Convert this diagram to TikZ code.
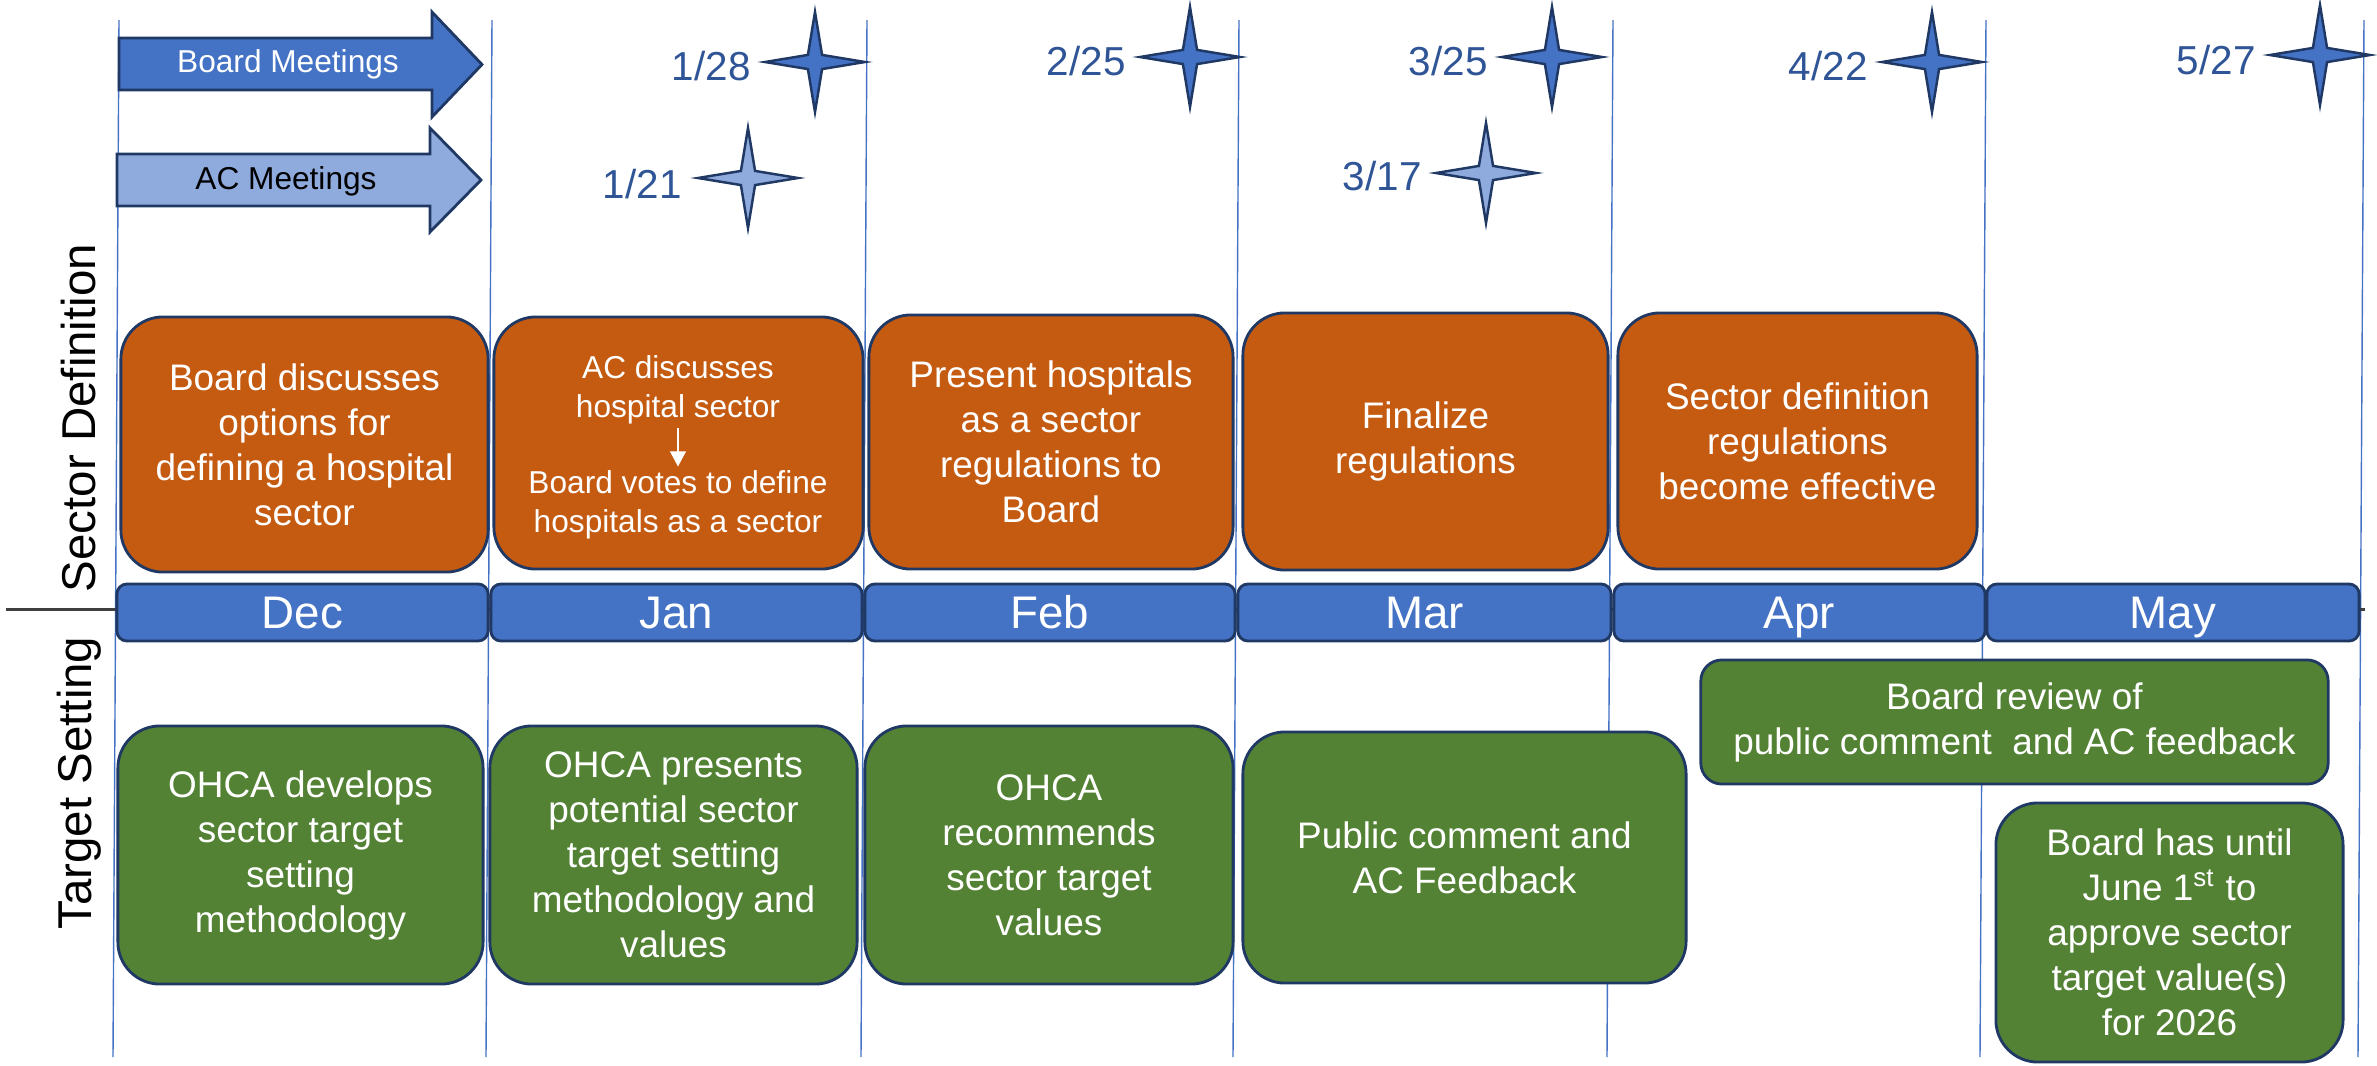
\documentclass[tikz,border=0pt]{standalone}
\usepackage{fontspec}
\setmainfont{Liberation Sans}
\usepackage{tikz}
\usetikzlibrary{shapes.geometric,arrows.meta,positioning}
\usepackage{xcolor}

\definecolor{boxorange}{HTML}{C55A11}
\definecolor{boxgreen}{HTML}{548235}
\definecolor{monthblue}{HTML}{4472C4}
\definecolor{lightblue}{HTML}{8FAADC}
\definecolor{navy}{HTML}{1F3864}
\definecolor{datetext}{HTML}{2F5597}

\begin{document}
\begin{tikzpicture}[x=0.01cm,y=-0.01cm]

        \tikzset{
            box/.style={draw=navy, line width=0.8pt, rounded corners=0.42cm, text=white, align=center, inner sep=0pt, font=\fontsize{10.5}{12.8}\selectfont},
            box_orange/.style={box, fill=boxorange},
            box_green/.style={box, fill=boxgreen},
            month/.style={draw=navy, line width=0.8pt, fill=monthblue, rounded corners=0.1cm, text=white, minimum height=0.57cm, inner sep=0pt, text height=9.3pt, text depth=0pt, font=\fontsize{13}{15}\selectfont},
            meeting_star/.style={star, star points=4, star point ratio=5, minimum size=1cm, inner sep=0pt, draw=navy, line width=0.7pt},
            star_board/.style={meeting_star, fill=monthblue},
            star_ac/.style={meeting_star, fill=lightblue},
            date_label/.style={text=datetext, inner sep=0pt, font=\fontsize{11.5}{13}\selectfont},
            side_label/.style={rotate=90, anchor=base, font=\fontsize{13.5}{16}\selectfont},
            meeting_arrow/.style={draw=navy, line width=0.8pt},
            divider/.style={monthblue, line width=0.4pt}
        }

        \useasboundingbox (0,0) rectangle (2377,1066);

        \foreach \x in {119,492,867,1239,1613,1986,2364} {
            \draw[divider] (\x,20) -- ({\x-6},1057);
        }
        \draw[line width=0.85pt, black!75] (6,609) -- (2365,609);

        \draw[meeting_arrow, fill=monthblue] (119,38) -- (432,38) -- (432,12) -- (482,64.5) -- (432,117) -- (432,90) -- (119,90) -- cycle;
        \draw[meeting_arrow, fill=lightblue] (117,154) -- (430,154) -- (430,128) -- (481,180) -- (430,232) -- (430,206) -- (117,206) -- cycle;
        \node[text=white, font=\fontsize{9}{11}\selectfont] (board_mtg) at (288,64) {Board Meetings};
        \node[font=\fontsize{9}{11}\selectfont] (ac_mtg) at (286,181) {AC Meetings};

        \node[star_board] (s128) at (815,62) {};
        \node[star_ac] (s121) at (748,178) {};
        \node[star_board] (s225) at (1190,57) {};
        \node[star_board] (s325) at (1552,57) {};
        \node[star_ac] (s317) at (1486,173) {};
        \node[star_board] (s422) at (1932,62) {};
        \node[star_board] (s527) at (2320,55) {};

        \node[date_label, left=0.06cm of s128.west, yshift=-0.04cm] (d128) {1/28};
        \node[date_label, left=0.08cm of s121.west, yshift=-0.06cm] (d121) {1/21};
        \node[date_label, left=0.06cm of s225.west, yshift=-0.04cm] (d225) {2/25};
        \node[date_label, left=0.06cm of s325.west, yshift=-0.04cm] (d325) {3/25};
        \node[date_label, left=0.06cm of s317.west, yshift=-0.03cm] (d317) {3/17};
        \node[date_label, left=0.06cm of s422.west, yshift=-0.04cm] (d422) {4/22};
        \node[date_label, left=0.06cm of s527.west, yshift=-0.05cm] (d527) {5/27};

        \node[side_label] (sector_lbl) at (95,418) {Sector Definition};
        \node[side_label] (target_lbl) at (91,783) {Target Setting};

        \node[box_orange, minimum width=3.67cm, minimum height=2.55cm] (dec_def) at (304.5,444.5) {Board discusses\\options for\\defining a hospital\\sector};
        \node[box_orange, minimum width=3.69cm, minimum height=2.52cm] (jan_def) at (678.5,443) {};
        \node[box_orange, minimum width=3.64cm, minimum height=2.54cm] (feb_def) at (1051,442) {Present hospitals\\as a sector\\regulations to\\Board};
        \node[box_orange, minimum width=3.65cm, minimum height=2.57cm] (mar_def) at (1425.5,441.5) {Finalize\\regulations};
        \node[box_orange, minimum width=3.59cm, minimum height=2.56cm] (apr_def) at (1797.5,441) {Sector definition\\regulations\\become effective};

        \node[text=white, align=center, inner sep=0pt, font=\fontsize{9}{11.1}\selectfont] (jan_ac) at (678,390) {AC discusses\\hospital sector};
        \node[text=white, align=center, inner sep=0pt, font=\fontsize{9}{11.1}\selectfont] (jan_board) at (678,505) {Board votes to define\\hospitals as a sector};
        \draw[white, line width=0.4pt, -{Triangle[length=4.3pt,width=4.5pt]}, shorten <=1pt, shorten >=1pt] (jan_ac) -- (jan_board);

        \node[month, minimum width=3.71cm] (dec) at (302.5,612.5) {Dec};
        \node[month, minimum width=3.71cm] (jan) at (676.5,612.5) {Jan};
        \node[month, minimum width=3.70cm] (feb) at (1050,612.5) {Feb};
        \node[month, minimum width=3.73cm] (mar) at (1424.5,612.5) {Mar};
        \node[month, minimum width=3.71cm] (apr) at (1799.5,612.5) {Apr};
        \node[month, minimum width=3.72cm] (may) at (2173,612.5) {May};

        \node[box_green, minimum width=3.65cm, minimum height=2.58cm] (dec_tgt) at (300.5,855) {OHCA develops\\sector target\\setting\\methodology};
        \node[box_green, minimum width=3.67cm, minimum height=2.58cm] (jan_tgt) at (673.5,855) {OHCA presents\\potential sector\\target setting\\methodology and\\values};
        \node[box_green, minimum width=3.68cm, minimum height=2.58cm] (feb_tgt) at (1049,855) {OHCA\\recommends\\sector target\\values};
        \node[box_green, minimum width=4.43cm, minimum height=2.51cm] (mar_tgt) at (1464.5,857.5) {Public comment and\\AC Feedback};
        \node[box_green, rounded corners=0.21cm, minimum width=6.27cm, minimum height=1.24cm] (review_tgt) at (2014.5,722) {Board review of\\public comment~ and AC feedback};
        \node[box_green, minimum width=3.47cm, minimum height=2.59cm] (june_tgt) at (2169.5,932.5) {Board has until\\June 1\textsuperscript{st} to\\approve sector\\target value(s)\\for 2026};

    \end{tikzpicture}
\end{document}
